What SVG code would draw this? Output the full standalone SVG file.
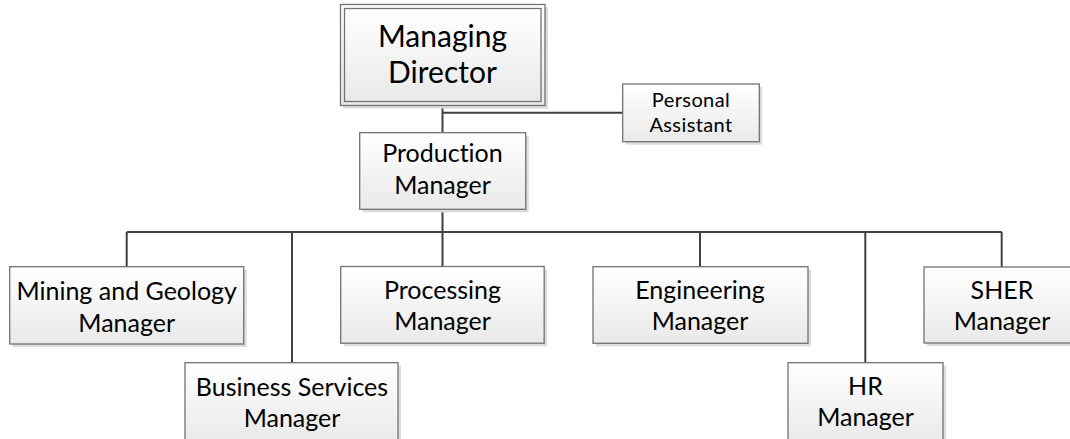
<svg xmlns="http://www.w3.org/2000/svg" width="1070" height="439" viewBox="0 0 1070 439">
<defs>
<linearGradient id="g" x1="0" y1="0" x2="0" y2="1">
<stop offset="0" stop-color="#ffffff"/>
<stop offset="1" stop-color="#e9e9e9"/>
</linearGradient>
<style>
.box{fill:url(#g);stroke:#727272;stroke-width:1.3}
.sh{fill:#dcdcdc;stroke:none}
.t{font-family:Lato,"Liberation Sans",sans-serif;fill:#000;text-anchor:middle;font-variant-ligatures:none}
.l{font-size:25px}
.s{font-size:20px;letter-spacing:0.4px}
.c{stroke:#404040;stroke-width:2;fill:none}
</style>
</defs>
<rect width="1070" height="439" fill="#fff"/>
<g id="connectors">
<path class="c" d="M442.5 105.5V132.7M442.5 112.7H622.7M442.5 209.3V266.5M126.7 232H1001.7M126.7 232V266.7M292 232V362.7M700 232V266.7M865.3 232V362.7M1001.7 232V267"/>
</g>
<g id="managing-director">
<rect class="sh" x="343.5" y="7.5" width="204.5" height="101"/>
<rect class="box" x="340.5" y="4.5" width="204.5" height="101"/>
<rect class="box" x="344.5" y="8.5" width="196.5" height="93"/>
<text class="t" x="442.5" y="46.7" font-size="30">Managing</text>
<text class="t" x="442.5" y="83.3" font-size="30">Director</text>
</g>
<g id="personal-assistant">
<rect class="sh" x="625.7" y="87" width="136.6" height="57.7"/>
<rect class="box" x="622.7" y="84" width="136.6" height="57.7"/>
<text class="t s" x="691" y="106.7">Personal</text>
<text class="t s" x="691" y="131.7">Assistant</text>
</g>
<g id="production-manager">
<rect class="sh" x="362.7" y="135.7" width="166" height="76.6"/>
<rect class="box" x="359.7" y="132.7" width="166" height="76.6"/>
<text class="t l" x="442.5" y="161.7">Production</text>
<text class="t l" x="442.5" y="194">Manager</text>
</g>
<g id="mining-geology-manager">
<rect class="sh" x="12.7" y="269.7" width="234" height="77.3"/>
<rect class="box" x="9.7" y="266.7" width="234" height="77.3"/>
<text class="t l" x="126.7" y="300">Mining and Geology</text>
<text class="t l" x="126.7" y="331.7">Manager</text>
</g>
<g id="business-services-manager">
<rect class="sh" x="188" y="365.7" width="213" height="80"/>
<rect class="box" x="185" y="362.7" width="213" height="80"/>
<text class="t l" x="292" y="395.7">Business Services</text>
<text class="t l" x="292" y="426.7">Manager</text>
</g>
<g id="processing-manager">
<rect class="sh" x="343.7" y="269.5" width="203.5" height="76.7"/>
<rect class="box" x="340.7" y="266.5" width="203.5" height="76.7"/>
<text class="t l" x="442.5" y="299.3">Processing</text>
<text class="t l" x="442.5" y="330.3">Manager</text>
</g>
<g id="engineering-manager">
<rect class="sh" x="596" y="269.7" width="215" height="76.6"/>
<rect class="box" x="593" y="266.7" width="215" height="76.6"/>
<text class="t l" x="700" y="298.5">Engineering</text>
<text class="t l" x="700" y="330.3">Manager</text>
</g>
<g id="hr-manager">
<rect class="sh" x="791" y="365.7" width="155" height="80"/>
<rect class="box" x="788" y="362.7" width="155" height="80"/>
<text class="t l" x="865.5" y="395">HR</text>
<text class="t l" x="865.5" y="425.7">Manager</text>
</g>
<g id="sher-manager">
<rect class="sh" x="927" y="270" width="156" height="76"/>
<rect class="box" x="924" y="267" width="156" height="76"/>
<text class="t l" x="1002" y="298.5">SHER</text>
<text class="t l" x="1002" y="330.3">Manager</text>
</g>
</svg>
